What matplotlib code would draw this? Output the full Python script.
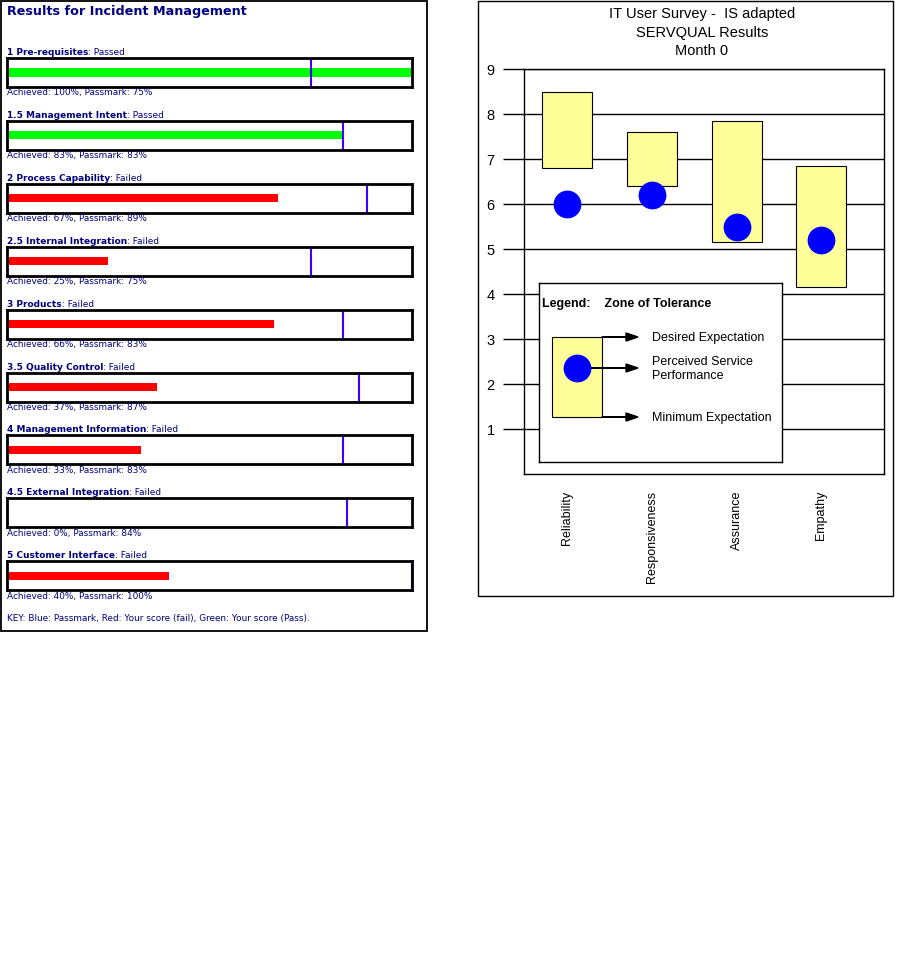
import numpy as np
import matplotlib.pyplot as plt
from matplotlib.patches import Rectangle

W, H = 915, 974

# left panel: incident management results
sections = ["1 Pre-requisites", "1.5 Management Intent", "2 Process Capability",
            "2.5 Internal Integration", "3 Products", "3.5 Quality Control",
            "4 Management Information", "4.5 External Integration", "5 Customer Interface"]
achieved = [100, 83, 67, 25, 66, 37, 33, 0, 40]
passmark = [75, 83, 89, 75, 83, 87, 83, 84, 100]

# right panel: SERVQUAL zones of tolerance
dimensions = ["Reliability", "Responsiveness", "Assurance", "Empathy"]
desired = [8.5, 7.6, 7.85, 6.85]
minimum = [6.8, 6.4, 5.15, 4.15]
perceived = [6.0, 6.2, 5.5, 5.2]

NAVY = "#000080"
LEFT_FONT = "DejaVu Sans"
ARIAL = "Liberation Sans"


def fbox(x0, y0, x1, y1):
    # pixel box (top-left origin) -> figure rect
    return [x0 / W, 1 - y1 / H, (x1 - x0) / W, (y1 - y0) / H]


def fy(y):
    return 1 - y / H


fig = plt.figure(figsize=(W / 100, H / 100), dpi=100)
renderer = fig.canvas.get_renderer()

# ---- left panel ----
fig.patches.append(Rectangle((0.5 / W, fy(631)), 426.5 / W, 630.5 / H, transform=fig.transFigure,
                             fill=False, ec="black", lw=1.3))
fig.text(7 / W, fy(12), "Results for Incident Management", fontsize=9.2, fontweight="bold",
         color=NAVY, family=LEFT_FONT, va="center")

for i, name in enumerate(sections):
    top = 58 + i * 62.9
    bax = fig.add_axes(fbox(7, top, 412, top + 29))
    ok = achieved[i] >= passmark[i]
    bax.barh([0.5], [achieved[i]], height=0.28, color="#00ff00" if ok else "#ff0000")
    bax.axvline(passmark[i], color="#3b00ff", lw=1.5)
    bax.set_xlim(0, 100)
    bax.set_ylim(0, 1)
    bax.set_xticks([])
    bax.set_yticks([])
    for s in bax.spines.values():
        s.set_linewidth(2)

    t = fig.text(7 / W, fy(top - 5.5), name, fontsize=6.5, fontweight="bold", color=NAVY,
                 family=LEFT_FONT, va="center")
    bb = t.get_window_extent(renderer)
    fig.text(bb.x1 / W, fy(top - 5.5), ": " + ("Passed" if ok else "Failed"), fontsize=6.5,
             color=NAVY, family=LEFT_FONT, va="center")
    fig.text(7 / W, fy(top + 35), f"Achieved: {achieved[i]}%, Passmark: {passmark[i]}%",
             fontsize=6.4, color=NAVY, family=LEFT_FONT, va="center")

fig.text(7 / W, fy(618), "KEY: Blue: Passmark, Red: Your score (fail), Green: Your score (Pass).",
         fontsize=6.4, color=NAVY, family=LEFT_FONT, va="center")

# ---- right panel ----
fig.patches.append(Rectangle((478 / W, fy(596)), 415 / W, 595.5 / H, transform=fig.transFigure,
                             fill=False, ec="black", lw=1.0))
for txt, y in [("IT User Survey -  IS adapted", 14), ("SERVQUAL Results", 33), ("Month 0", 51)]:
    fig.text(702 / W, fy(y), txt, fontsize=10.5, family=ARIAL, ha="center", va="center")

ax = fig.add_axes(fbox(524, 69, 884, 474))
x = np.arange(len(dimensions))
ax.bar(x, np.array(desired) - np.array(minimum), bottom=minimum, width=0.59,
       color="#ffff99", edgecolor="black", lw=0.8, zorder=3)
ax.plot(x, perceived, "o", ms=19, color="#0000ff", zorder=4)
ax.set_xlim(-0.51, 3.74)
ax.set_ylim(0, 9)
ax.set_yticks(range(1, 10))
ax.set_axisbelow(True)
ax.grid(axis="y", color="black", lw=1)
ax.set_xticks(x)
ax.set_xticklabels(dimensions, rotation=90, family=ARIAL, fontsize=9)
ax.tick_params(axis="x", length=0, pad=12)
ax.tick_params(axis="y", length=15, width=1, pad=6, labelsize=10.5)
for lab in ax.get_yticklabels():
    lab.set_family(ARIAL)
for s in ax.spines.values():
    s.set_linewidth(1)

# legend box
lg = fig.add_axes(fbox(539, 283, 782, 462), zorder=5)
lg.set_xlim(0, 243)
lg.set_ylim(179, 0)
lg.set_xticks([])
lg.set_yticks([])
for s in lg.spines.values():
    s.set_linewidth(1)
lg.text(3, 21, "Legend:    Zone of Tolerance", fontsize=9, fontweight="bold", family=ARIAL, va="center")
lg.add_patch(Rectangle((13, 54), 50, 80, fc="#ffff99", ec="black", lw=0.8))
lg.plot([38], [85], "o", ms=19, color="#0000ff")
for x0, y0 in [(63, 54), (51, 85), (63, 134)]:
    lg.arrow(x0, y0, 99 - x0, 0, width=0.4, head_width=8, head_length=12,
             length_includes_head=True, fc="black", ec="black")
lg.text(113, 55, "Desired Expectation", fontsize=9, family=ARIAL, va="center")
lg.text(113, 86, "Perceived Service\nPerformance", fontsize=9, family=ARIAL, va="center",
        linespacing=1.15)
lg.text(113, 135, "Minimum Expectation", fontsize=9, family=ARIAL, va="center")

fig.savefig("out.png", dpi=100)
